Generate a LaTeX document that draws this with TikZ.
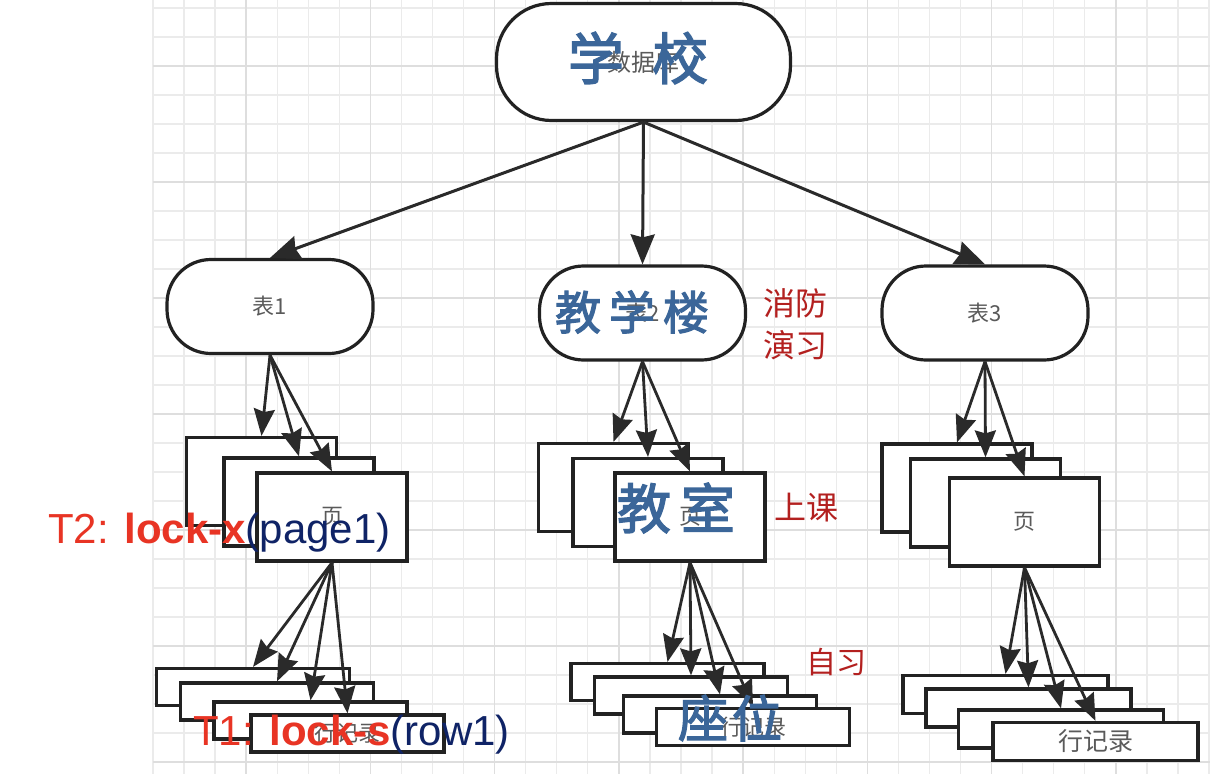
\documentclass[tikz,border=0pt]{standalone}
\usepackage{fontspec}
\setmainfont{Liberation Sans}
\newfontfamily\cjk{Noto Sans CJK SC}
\newfontfamily\cjkb[FakeBold=2.5]{Noto Sans CJK SC}
\usetikzlibrary{arrows.meta}
\definecolor{boxline}{HTML}{222222}
\definecolor{arr}{HTML}{2A2A2A}
\definecolor{gridc}{HTML}{EBEBEB}
\definecolor{gridm}{HTML}{DEDEDE}
\definecolor{lbl}{HTML}{5A5A5A}
\definecolor{blu}{HTML}{3B6699}
\definecolor{dred}{HTML}{B3201F}
\definecolor{bred}{HTML}{E83424}
\definecolor{navy}{HTML}{0F2366}
\tikzset{
  boxbase/.style={draw=boxline, line width=3.2pt, fill=white, inner sep=0pt, text=lbl},
  rootbox/.style={boxbase, rounded corners=55pt, minimum width=294, minimum height=117, font=\cjk\fontsize{24}{24}\selectfont},
  tbl/.style={boxbase, rounded corners=44pt, minimum width=206, minimum height=94, font=\cjk\fontsize{22}{22}\selectfont},
  pagebox/.style={boxbase, minimum width=150, minimum height=88, font=\cjk\fontsize{22}{22}\selectfont},
  rowbox/.style={boxbase, minimum width=193, minimum height=37, font=\cjk\fontsize{22}{22}\selectfont},
  rowboxr/.style={boxbase, minimum width=205, minimum height=38, font=\cjk\fontsize{25}{25}\selectfont},
  conn/.style={draw=arr, line width=2.8pt, -{Stealth[length=27pt,width=21pt,inset=3pt]}},
  bigconn/.style={draw=arr, line width=3pt, -{Stealth[length=30pt,width=24pt,inset=3pt]}},
  bluelab/.style={inner sep=0pt, text=blu},
  redlab/.style={inner sep=0pt, text=dred, font=\cjk\fontsize{32}{42}\selectfont, align=center},
  locklab/.style={inner sep=0pt, anchor=base west, font=\fontsize{42}{42}\selectfont}
}
\begin{document}
\begin{tikzpicture}[x=1pt,y=-1pt]
\useasboundingbox (0,0) rectangle (1210,774);
\fill[white] (0,0) rectangle (1210,774);
% grid
\foreach \i in {0,...,34} {
  \draw[gridc, line width=1.3pt] ({153+31.06*\i},0) -- ({153+31.06*\i},774);
}
\foreach \j in {0,...,26} {
  \draw[gridc, line width=1.3pt] (153,{8+29*\j}) -- (1210,{8+29*\j});
}
\foreach \i in {3,7,...,31} {
  \draw[gridm, line width=1.4pt] ({153+31.06*\i},0) -- ({153+31.06*\i},774);
}
\foreach \j in {2,6,...,26} {
  \draw[gridm, line width=1.4pt] (153,{8+29*\j}) -- (1210,{8+29*\j});
}
% root and tables
\node[rootbox] (root) at (643.5,62) {数据库};
\node[tbl] (t1) at (270,306.5) {表1};
\node[tbl] (t2) at (642.5,313) {表2};
\node[tbl] (t3) at (985,313) {表3};
% pages
\node[pagebox] (p1a) at (261.5,481.5) {};
\node[pagebox] (p1b) at (299,502) {};
\node[pagebox] (p1c) at (332,517) {页};
\node[pagebox] (p2a) at (613.5,487.5) {};
\node[pagebox] (p2b) at (648,502.5) {};
\node[pagebox] (p2c) at (690,517) {页};
\node[pagebox] (p3a) at (957,488) {};
\node[pagebox] (p3b) at (985.5,503) {};
\node[pagebox] (p3c) at (1024.5,522) {页};
% rows
\node[rowbox] (r1a) at (253,687) {};
\node[rowbox] (r1b) at (277,701.5) {};
\node[rowbox] (r1c) at (310.5,720.5) {};
\node[rowbox] (r1d) at (347.5,733.5) {行记录};
\node[rowbox] (r2a) at (667.5,682) {};
\node[rowbox] (r2b) at (691,695.5) {};
\node[rowbox] (r2c) at (720,714.5) {};
\node[rowbox] (r2d) at (753,727) {行记录};
\node[rowboxr] (r3a) at (1005.5,694.5) {};
\node[rowboxr] (r3b) at (1028.5,708) {};
\node[rowboxr] (r3c) at (1061,729) {};
\node[rowboxr] (r3d) at (1095.5,741.5) {行记录};
% connectors
\foreach \t in {t1,t2,t3} \draw[bigconn] (root.south) -- (\t.north);
\foreach \n in {p1a,p1b,p1c} \draw[conn] (t1.south) -- (\n.north);
\foreach \n in {p2a,p2b,p2c} \draw[conn] (t2.south) -- (\n.north);
\foreach \n in {p3a,p3b,p3c} \draw[conn] (t3.south) -- (\n.north);
\foreach \n in {r1a,r1b,r1c,r1d} \draw[conn] (p1c.south) -- (\n.north);
\foreach \n in {r2a,r2b,r2c,r2d} \draw[conn] (p2c.south) -- (\n.north);
\foreach \n in {r3a,r3b,r3c,r3d} \draw[conn] (p3c.south) -- (\n.north);
% overlay labels
\node[bluelab, font=\cjkb\fontsize{56}{56}\selectfont] (xuexiao) at (638,58) {学\hspace{28pt}校};
\node[bluelab, font=\cjkb\fontsize{46}{46}\selectfont] (jxl) at (632,312) {教\hspace{8pt}学\hspace{8pt}楼};
\node[bluelab, font=\cjkb\fontsize{54}{54}\selectfont] (jiaoshi) at (676,508) {教\hspace{10pt}室};
\node[bluelab, font=\cjkb\fontsize{50}{50}\selectfont] (zuowei) at (730,718) {座\hspace{4pt}位};
\node[redlab] (xiaofang) at (795,324) {消防\\演习};
\node[redlab] (shangke) at (806,508) {上课};
\node[redlab, font=\cjk\fontsize{30}{30}\selectfont] (zixi) at (836,662) {自习};
\node[locklab] (t2lock) at (48,543) {\textcolor{bred}{T2: \textbf{lock-x}}\textcolor{navy}{(page1)}};
\node[locklab] (t1lock) at (193,745) {\textcolor{bred}{T1: \textbf{lock-s}}\textcolor{navy}{(row1)}};
\end{tikzpicture}
\end{document}
